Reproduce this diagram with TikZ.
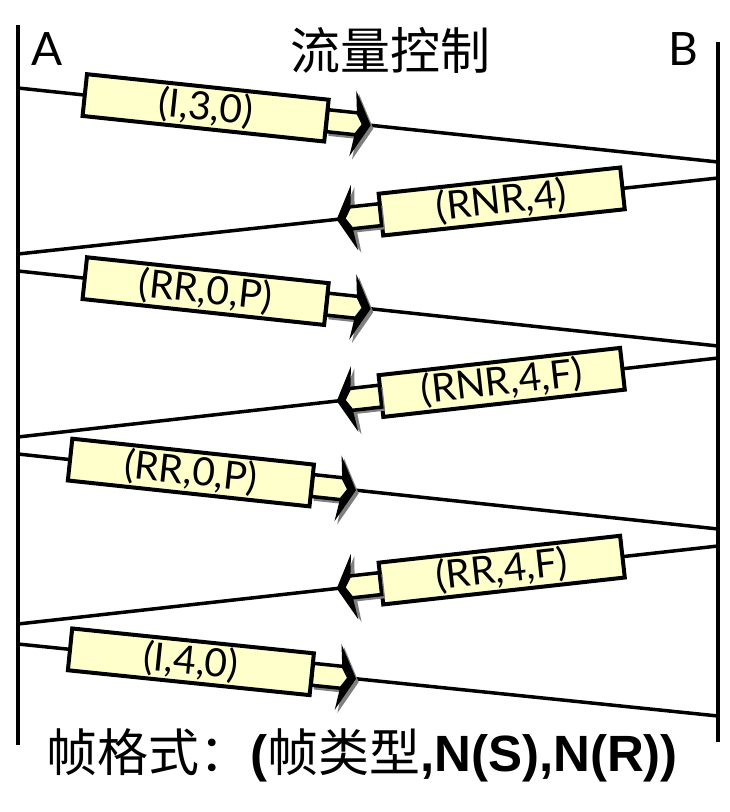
\documentclass[tikz,border=0pt]{standalone}
\usepackage{fontspec}
\newfontfamily\lbl{Lato}
\newfontfamily\cjk{Noto Sans CJK SC}
\newfontfamily\arb{Liberation Sans}
\usetikzlibrary{calc}
\definecolor{boxyellow}{RGB}{255,255,204}
\definecolor{shadowgray}{RGB}{128,128,128}
\tikzset{
  lifeline/.style={line width=4.5pt},
  msgline/.style={line width=3.5pt},
  msgbox/.style={draw, fill=boxyellow, line width=4pt, minimum width=243pt,
    minimum height=42pt, inner sep=0pt, sloped,
    font=\lbl\fontsize{39}{42}\selectfont},
  shaftshape/.style={line width=3.5pt, line join=miter},
  pics/arrowhead/.style={code={
    \fill[shadowgray, shift={#1}] (122,-12) -- (150,-12) -- (148,-33) -- (166,0)
      -- (148,33) -- (150,12) -- (122,12) -- cycle;
    \filldraw[shaftshape, fill=boxyellow] (122,-11) -- (152,-11) -- (159,0)
      -- (152,11) -- (122,11) -- cycle;
    \fill (148,-33) -- (166,0) -- (148,33) -- (151,11) -- (159,0) -- (151,-11) -- cycle;
  }},
  big/.style={font=\lbl\fontsize{46}{48}\selectfont, inner sep=0pt},
  cjkbig/.style={font=\cjk\fontsize{#1}{#1}\selectfont, inner sep=0pt}
}
\begin{document}
\begin{tikzpicture}[x=1pt,y=-1pt]
\useasboundingbox (0,0) rectangle (729,812);
% lifelines
\coordinate (Atop) at (18,25);
\coordinate (Abot) at (18,745);
\coordinate (Btop) at (718,42);
\coordinate (Bbot) at (718,742);
\draw[lifeline] (Atop) -- (Abot);
\draw[lifeline] (Btop) -- (Bbot);
% labels
\node[big] (A) at (47,49) {A};
\node[big] (B) at (683,49) {B};
\node[cjkbig=50] (title) at (390,50) {流量控制};
% message end points
\coordinate (a1) at (18,88);  \coordinate (b1) at (718,162);
\coordinate (b2) at (718,178); \coordinate (a2) at (18,254);
\coordinate (a3) at (18,271); \coordinate (b3) at (718,346);
\coordinate (b4) at (718,358); \coordinate (a4) at (18,437);
\coordinate (a5) at (18,454); \coordinate (b5) at (718,529);
\coordinate (b6) at (718,546); \coordinate (a6) at (18,624);
\coordinate (a7) at (18,644); \coordinate (b7) at (718,716);
% messages
\draw[msgline] (a1) -- (b1) node[msgbox, pos=0.268] (m1) {(I,3,0)};
\path let \p1=($(b1)-(a1)$), \n1={atan2(\y1,\x1)} in (m1.center) pic[rotate=\n1] {arrowhead={(3,3)}};
\draw[msgline] (b2) -- (a2) node[msgbox, pos=0.309] (m2) {(RNR,4)};
\path let \p1=($(a2)-(b2)$), \n1={atan2(\y1,\x1)} in (m2.center) pic[rotate=\n1] {arrowhead={(-3,-3)}};
\draw[msgline] (a3) -- (b3) node[msgbox, pos=0.268] (m3) {(RR,0,P)};
\path let \p1=($(b3)-(a3)$), \n1={atan2(\y1,\x1)} in (m3.center) pic[rotate=\n1] {arrowhead={(3,3)}};
\draw[msgline] (b4) -- (a4) node[msgbox, pos=0.309] (m4) {(RNR,4,F)};
\path let \p1=($(a4)-(b4)$), \n1={atan2(\y1,\x1)} in (m4.center) pic[rotate=\n1] {arrowhead={(-3,-3)}};
\draw[msgline] (a5) -- (b5) node[msgbox, pos=0.247] (m5) {(RR,0,P)};
\path let \p1=($(b5)-(a5)$), \n1={atan2(\y1,\x1)} in (m5.center) pic[rotate=\n1] {arrowhead={(3,3)}};
\draw[msgline] (b6) -- (a6) node[msgbox, pos=0.309] (m6) {(RR,4,F)};
\path let \p1=($(a6)-(b6)$), \n1={atan2(\y1,\x1)} in (m6.center) pic[rotate=\n1] {arrowhead={(-3,-3)}};
\draw[msgline] (a7) -- (b7) node[msgbox, pos=0.247] (m7) {(I,4,0)};
\path let \p1=($(b7)-(a7)$), \n1={atan2(\y1,\x1)} in (m7.center) pic[rotate=\n1] {arrowhead={(3,3)}};
% bottom caption
\node[cjkbig=51] (fmt) at (362,755) {帧格式：{\arb\bfseries (}帧类型{\arb\bfseries ,N(S),N(R))}};
\end{tikzpicture}
\end{document}
